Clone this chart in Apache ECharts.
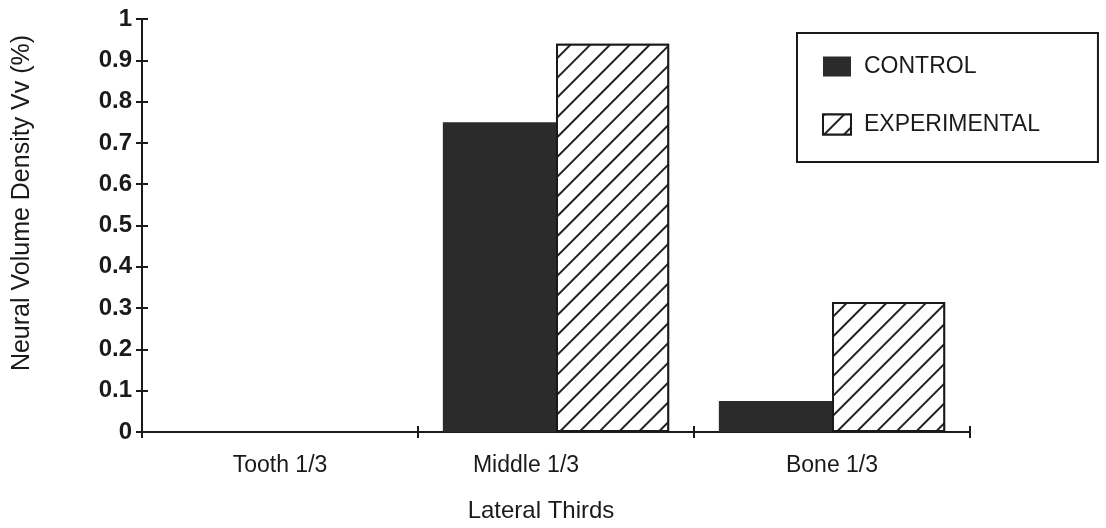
<!DOCTYPE html>
<html><head><meta charset="utf-8">
<script src="https://cdn.jsdelivr.net/npm/echarts@6/dist/echarts.min.js"></script>
<style>html,body{margin:0;padding:0;background:#fff}#c{width:1106px;height:528px}</style>
</head><body><div id="c"></div>
<script>
const categories = ['Tooth 1/3', 'Middle 1/3', 'Bone 1/3'];
const controlValues = [0, 0.75, 0.075];
const experimentalValues = [0, 0.94, 0.315];
const yTickLabels = ['0', '0.1', '0.2', '0.3', '0.4', '0.5', '0.6', '0.7', '0.8', '0.9', '1'];
const seriesNames = ['CONTROL', 'EXPERIMENTAL'];
const xTitle = 'Lateral Thirds';
const yTitle = 'Neural Volume Density Vv (%)';

const ink = '#1a1a1a';
const font = '"Liberation Sans", Arial, Helvetica, sans-serif';
const chart = echarts.init(document.getElementById('c'), null, {renderer: 'canvas'});
const yCommon = {type: 'value', min: 0, max: 1, interval: 0.1, splitLine: {show: false}};
const xData = categories.map((c, i) => i === 1 ? {value: c, textStyle: {padding: [0, 60, 0, 0]}} : c);
chart.setOption({
  animation: false,
  backgroundColor: '#fff',
  textStyle: {fontFamily: font, color: ink},
  grid: {left: 142, right: 136, top: 19, bottom: 96, containLabel: false},
  legend: {
    orient: 'vertical', left: 797, top: 33,
    padding: [22, 58, 26, 25], itemGap: 35,
    itemWidth: 28, itemHeight: 20,
    borderColor: ink, borderWidth: 2, backgroundColor: '#fff',
    icon: 'rect',
    textStyle: {fontFamily: font, fontSize: 23, color: ink, padding: [0, 0, 0, 8]},
    data: seriesNames
  },
  xAxis: [{
    type: 'category', data: xData, position: 'bottom',
    axisLine: {lineStyle: {color: ink, width: 2}},
    axisTick: {show: true, length: 6, lineStyle: {color: ink, width: 2}, alignWithLabel: false},
    axisLabel: {fontFamily: font, fontSize: 23, color: ink, margin: 22},
    name: xTitle, nameLocation: 'middle', nameGap: 67,
    nameTextStyle: {fontFamily: font, fontSize: 24, color: ink, padding: [0, 30, 0, 0]}
  }, {
    type: 'category', data: categories, position: 'bottom',
    axisLine: {show: false},
    axisTick: {show: true, inside: true, length: 6, lineStyle: {color: ink, width: 2}},
    axisLabel: {show: false}
  }],
  yAxis: [Object.assign({}, yCommon, {
    axisLine: {show: true, lineStyle: {color: ink, width: 2}},
    axisTick: {show: true, length: 6, lineStyle: {color: ink, width: 2}},
    axisLabel: {fontFamily: font, fontSize: 24, fontWeight: 'bold', color: ink, margin: 10,
      formatter: v => yTickLabels[Math.round(v * 10)]}
  }), Object.assign({}, yCommon, {
    position: 'left',
    axisLine: {show: false},
    axisTick: {show: true, inside: true, length: 6, lineStyle: {color: ink, width: 2}},
    axisLabel: {show: false}
  })],
  graphic: [{
    type: 'text', x: 22, y: 203, rotation: Math.PI / 2,
    style: {text: yTitle, fontFamily: font, fontSize: 25, fill: ink, align: 'center', verticalAlign: 'middle'}
  }],
  series: [{
    name: seriesNames[0], type: 'bar', data: controlValues,
    barWidth: '41%', barGap: '0%',
    itemStyle: {color: '#2b2b2b', borderColor: '#2b2b2b', borderWidth: 0}
  }, {
    name: seriesNames[1], type: 'bar', data: experimentalValues,
    barWidth: '41%', barGap: '0%',
    itemStyle: {
      color: '#fff', borderColor: ink, borderWidth: 2,
      decal: {symbol: 'rect', symbolSize: 1, dashArrayX: [1, 0], dashArrayY: [2, 12],
        rotation: -Math.PI / 4, color: '#222', backgroundColor: '#fff'}
    }
  }]
});
</script></body></html>
